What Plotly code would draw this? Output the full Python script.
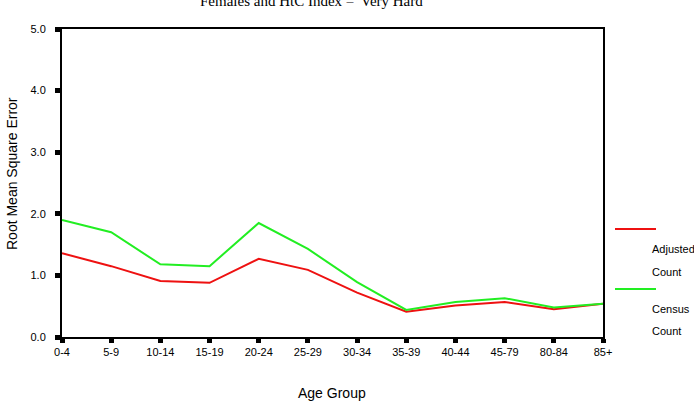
import plotly.graph_objects as go

age_groups = ["0-4", "5-9", "10-14", "15-19", "20-24", "25-29", "30-34",
              "35-39", "40-44", "45-79", "80-84", "85+"]
adjusted_count = [1.36, 1.15, 0.91, 0.88, 1.27, 1.09, 0.72, 0.41, 0.51, 0.57, 0.45, 0.54]
census_count = [1.90, 1.70, 1.18, 1.15, 1.85, 1.43, 0.89, 0.44, 0.57, 0.63, 0.48, 0.54]
y_ticks = [0, 1, 2, 3, 4, 5]
y_tick_labels = ["0.0", "1.0", "2.0", "3.0", "4.0", "5.0"]

W, H = 694, 410
L, R, T, B = 62, 603, 29, 337


def px(x):
    return (x - L) / (R - L)


def py(y):
    return (B - y) / (B - T)


fig = go.Figure()
fig.add_trace(go.Scatter(x=age_groups, y=adjusted_count, mode="lines",
                         line=dict(color="#ee1111", width=2), name="Adjusted Count"))
fig.add_trace(go.Scatter(x=age_groups, y=census_count, mode="lines",
                         line=dict(color="#22ee22", width=2), name="Census Count"))

axis_font = dict(family="Arial, Liberation Sans, sans-serif", size=11, color="#000")
title_font = dict(family="Arial, Liberation Sans, sans-serif", size=14, color="#000")

fig.update_layout(
    width=W, height=H,
    margin=dict(l=L, r=W - R, t=T, b=H - B, pad=0, autoexpand=False),
    paper_bgcolor="white", plot_bgcolor="white",
    showlegend=False,
    xaxis=dict(type="category", range=[0, 11], showgrid=False, zeroline=False,
               automargin=False,
               showline=True, linecolor="black", linewidth=2, mirror=True,
               ticks="outside", ticklen=4, tickwidth=5, tickcolor="black",
               tickfont=axis_font),
    yaxis=dict(range=[0, 5], showgrid=False, zeroline=False,
               automargin=False,
               tickvals=y_ticks, ticktext=y_tick_labels,
               showline=True, linecolor="black", linewidth=2, mirror=True,
               ticks="outside", ticklen=5, tickwidth=5, tickcolor="black",
               tickfont=axis_font, ticklabelstandoff=7),
)

# Axis titles
fig.add_annotation(text="Age Group", xref="paper", yref="paper",
                   x=px(332), y=py(393), xanchor="center", yanchor="middle",
                   showarrow=False, font=title_font)
fig.add_annotation(text="Root Mean Square Error", xref="paper", yref="paper",
                   x=px(12), y=py(174), xanchor="center", yanchor="middle",
                   textangle=-90, showarrow=False, font=title_font)

# Title (partially cut off at the top, as in the reference)
fig.add_annotation(text="Females and HtC Index = 'Very Hard'", xref="paper", yref="paper",
                   x=px(313), y=py(1), xanchor="center", yanchor="middle", showarrow=False,
                   font=dict(family="Liberation Serif, Times New Roman, serif", size=15, color="#000"))

# Custom legend
legend_items = [("#ee1111", 229, ["Adjusted", "Count"], [249, 272]),
                ("#22ee22", 289, ["Census", "Count"], [309, 331])]
for color, ly, words, wys in legend_items:
    fig.add_shape(type="line", xref="paper", yref="paper",
                  x0=px(615), x1=px(656), y0=py(ly), y1=py(ly),
                  line=dict(color=color, width=2))
    for w, wy in zip(words, wys):
        fig.add_annotation(text=w, xref="paper", yref="paper", x=px(650), y=py(wy),
                           xanchor="left", yanchor="middle", showarrow=False,
                           font=axis_font)

fig.write_html("out.html")
